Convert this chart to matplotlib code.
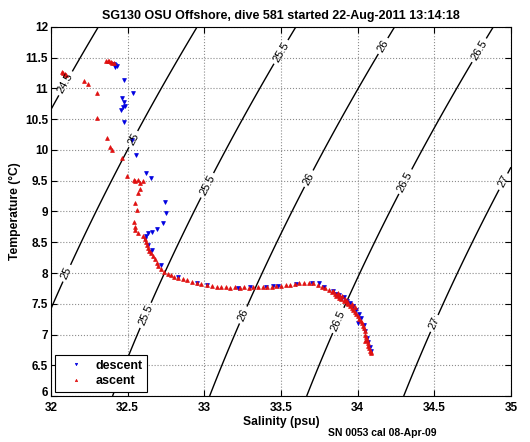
import numpy as np
import matplotlib
matplotlib.use("Agg")
import matplotlib.pyplot as plt
from matplotlib.transforms import ScaledTranslation

plt.rcParams["font.family"] = ["Liberation Sans", "DejaVu Sans"]

# descent samples (salinity psu, temperature degC)
desc_s = [32.41, 32.42, 32.42, 32.43, 32.475, 32.535, 32.465, 32.475, 32.48, 32.47,
          32.455, 32.475, 32.53, 32.555, 32.62, 32.65, 32.745, 32.75, 32.73, 32.69,
          32.66, 32.63, 32.62, 32.61, 32.63, 32.645, 32.66, 32.72, 32.83, 32.95,
          33.02, 33.22, 33.30, 33.40, 33.45, 33.48, 33.60, 33.70, 33.75, 33.78,
          33.84, 33.86, 33.87, 33.88, 33.90, 33.91, 33.93, 33.95, 33.97, 33.99,
          34.00, 34.01, 34.02, 34.04, 34.05, 34.06, 34.07, 34.08, 34.09]
desc_t = [11.40, 11.38, 11.35, 11.37, 11.14, 10.93, 10.85, 10.78, 10.72, 10.70,
          10.65, 10.46, 10.16, 9.92, 9.63, 9.54, 9.15, 8.98, 8.81, 8.72,
          8.67, 8.65, 8.60, 8.55, 8.45, 8.34, 8.37, 8.13, 7.94, 7.84,
          7.81, 7.76, 7.77, 7.78, 7.79, 7.79, 7.82, 7.84, 7.84, 7.77,
          7.70, 7.66, 7.62, 7.65, 7.60, 7.61, 7.55, 7.52, 7.47, 7.40,
          7.19, 7.33, 7.27, 7.15, 7.05, 6.95, 6.88, 6.80, 6.73]

# ascent samples
asc_s = [32.07, 32.08, 32.09, 32.10, 32.215, 32.24, 32.30, 32.30, 32.365, 32.385,
         32.40, 32.46, 32.36, 32.37, 32.38, 32.39, 32.40, 32.41, 32.495, 32.54,
         32.55, 32.57, 32.58, 32.60, 32.58, 32.57, 32.55, 32.56, 32.54, 32.55,
         32.55, 32.57, 32.60, 32.61, 32.62, 32.625, 32.63, 32.64, 32.65, 32.665,
         32.68, 32.69, 32.70, 32.72, 32.74, 32.76, 32.78, 32.80, 32.83, 32.86,
         32.89, 32.92, 32.95, 32.98, 33.02, 33.05, 33.08, 33.11, 33.14, 33.17,
         33.20, 33.23, 33.26, 33.29, 33.32, 33.35, 33.38, 33.41, 33.44, 33.47,
         33.50, 33.53, 33.56, 33.59, 33.62, 33.65, 33.68, 33.71, 33.74, 33.77,
         33.79, 33.81, 33.83, 33.85, 33.86, 33.88, 33.89, 33.91, 33.93, 33.94,
         33.95, 33.96, 33.97, 33.98, 33.99, 34.00, 34.01, 34.02, 34.03, 34.035,
         34.04, 34.045, 34.05, 34.055, 34.06, 34.065, 34.07, 34.075, 34.08, 34.085,
         33.84, 33.87, 33.90, 33.92, 33.88, 33.93, 33.96, 33.98, 34.05, 34.09]
asc_t = [11.27, 11.25, 11.24, 11.22, 11.12, 11.07, 10.93, 10.52, 10.20, 10.05,
         10.00, 9.87, 11.45, 11.44, 11.44, 11.43, 11.42, 11.41, 9.58, 9.52,
         9.50, 9.51, 9.46, 9.49, 9.37, 9.30, 9.14, 9.02, 8.83, 8.75,
         8.70, 8.65, 8.60, 8.56, 8.50, 8.45, 8.40, 8.36, 8.32, 8.27,
         8.22, 8.17, 8.11, 8.07, 8.02, 7.98, 7.96, 7.94, 7.92, 7.90,
         7.88, 7.86, 7.84, 7.82, 7.80, 7.79, 7.78, 7.77, 7.77, 7.76,
         7.77, 7.76, 7.77, 7.76, 7.77, 7.77, 7.78, 7.78, 7.78, 7.79,
         7.79, 7.80, 7.81, 7.82, 7.83, 7.84, 7.84, 7.83, 7.81, 7.78,
         7.75, 7.72, 7.69, 7.66, 7.62, 7.60, 7.57, 7.55, 7.52, 7.49,
         7.46, 7.43, 7.40, 7.37, 7.33, 7.30, 7.26, 7.22, 7.18, 7.14,
         7.10, 7.05, 7.00, 6.96, 6.91, 6.86, 6.82, 6.78, 6.74, 6.71,
         7.70, 7.68, 7.62, 7.58, 7.64, 7.55, 7.50, 7.45, 6.90, 6.70]

sigma_levels = [24.5, 25, 25.5, 26, 26.5, 27]
label_pos = [(32.09, 11.09), (32.55, 10.16), (32.10, 8.0),
             (33.51, 11.58), (33.04, 9.4), (32.61, 7.32),
             (34.18, 11.67), (33.70, 9.51), (33.27, 7.3),
             (34.82, 11.58), (34.33, 9.46), (33.90, 7.2),
             (34.97, 9.46), (34.51, 7.17)]


def sigma_t(s, t):
    # UNESCO 1980 equation of state at surface pressure
    rho_w = (999.842594 + 6.793952e-2 * t - 9.095290e-3 * t**2 + 1.001685e-4 * t**3
             - 1.120083e-6 * t**4 + 6.536332e-9 * t**5)
    a = 8.24493e-1 - 4.0899e-3 * t + 7.6438e-5 * t**2 - 8.2467e-7 * t**3 + 5.3875e-9 * t**4
    b = -5.72466e-3 + 1.0227e-4 * t - 1.6546e-6 * t**2
    c = 4.8314e-4
    return rho_w + a * s + b * s**1.5 + c * s**2 - 1000.0


sg, tg = np.meshgrid(np.linspace(32, 35, 301), np.linspace(6, 12, 301))

fig = plt.figure(figsize=(5.3, 4.42), dpi=100)
ax = fig.add_axes([0.0962, 0.104, 0.8679, 0.835])

cs = ax.contour(sg, tg, sigma_t(sg, tg), levels=sigma_levels, colors="k", linewidths=1.0)
ax.clabel(cs, fmt="%g", fontsize=8, inline=True, inline_spacing=3, manual=label_pos)

ax.plot(desc_s, desc_t, "v", color="#0000e0", markersize=2.8, markeredgewidth=0.5, label="descent")
ax.plot(asc_s, asc_t, "^", color="#e01010", markersize=2.8, markeredgewidth=0.5, label="ascent")

ax.set_xlim(32, 35)
ax.set_ylim(6, 12)
ax.set_xticks(np.arange(32, 35.01, 0.5))
ax.set_yticks(np.arange(6, 12.01, 0.5))
ax.set_xticklabels(["%g" % v for v in np.arange(32, 35.01, 0.5)])
ax.set_yticklabels(["%g" % v for v in np.arange(6, 12.01, 0.5)])
ax.tick_params(direction="in", top=True, right=True, length=4, labelsize=8.5, pad=2)
ax.tick_params(axis="x", pad=4)
for lab in ax.get_xticklabels() + ax.get_yticklabels():
    lab.set_fontweight("bold")
# nudge the bottom y label up a little, as in the original corner
lab6 = ax.get_yticklabels()[0]
lab6.set_transform(lab6.get_transform() + ScaledTranslation(0, 3 / 72, fig.dpi_scale_trans))
ax.grid(True, linestyle=":", color="0.55", linewidth=0.8)

ax.set_title("SG130 OSU Offshore, dive 581 started 22-Aug-2011 13:14:18",
             fontsize=9, fontweight="bold", pad=6)
ax.set_xlabel("Salinity (psu)", fontsize=8.7, fontweight="bold", labelpad=2)
ax.set_ylabel("Temperature (\u00b0C)", fontsize=8.7, fontweight="bold", labelpad=3)

leg = ax.legend(loc="lower left", fontsize=9, markerscale=0.6, fancybox=False,
                edgecolor="k", framealpha=1, borderaxespad=0.35, handlelength=2.6,
                handletextpad=0.25, borderpad=0.35, labelspacing=0.3)
leg.get_frame().set_linewidth(0.8)
for t in leg.get_texts():
    t.set_fontweight("bold")

fig.text(0.619, 0.02, "SN 0053 cal 08-Apr-09", fontsize=7.5, fontweight="bold", va="center")

fig.savefig("out.png", dpi=100)
